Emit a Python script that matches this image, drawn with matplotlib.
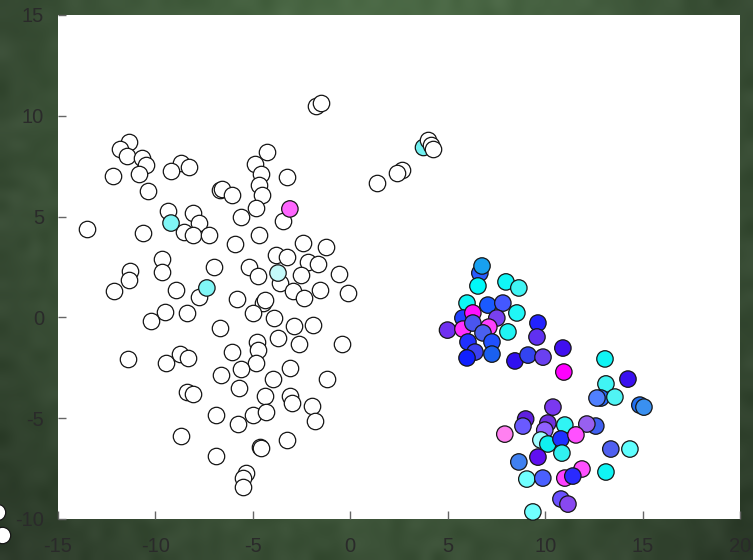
import numpy as np
import matplotlib
matplotlib.use("Agg")
import matplotlib.pyplot as plt

plt.rcParams["font.family"] = ["Liberation Sans", "DejaVu Sans"]
plt.rcParams["axes.unicode_minus"] = False

# ---- data -------------------------------------------------------------
# unlabelled samples (white) and labelled samples (coloured)
white_x = [
    -1.76, -1.50, 2.65, 2.39, 1.37,
    -11.36, -11.82, -11.46, -10.69, -10.48, -10.84, -12.18, -10.38,
    -8.69, -8.28, -9.20, -6.69,
    -13.51, -10.64, -9.36, -8.07, -7.77, -8.54, -8.07, -7.25,
    -4.28, -4.89, -4.58, -4.69, -4.53, -3.25, -6.59, -6.07, -4.84, -5.61, -3.46,
    -4.69, -5.92, -3.81, -3.25, -2.43, -1.25, -2.17, -1.66, -2.53, -0.58, -0.12,
    -3.61, -2.94, -2.38, -1.56, -5.20, -4.74, -6.99, -7.77, -5.82, -4.48, -4.38,
    -9.66, -9.66, -11.31, -11.36, -12.13, -8.95, -9.51, -10.23, -8.38, -4.99, -6.69,
    -11.41, -9.46, -8.74, -8.33, -6.64, -8.38, -8.07,
    -3.92, -2.89, -1.92, -3.71, -2.63, -0.43, -4.79, -4.74, -6.07, -4.84, -5.61,
    -3.10, -3.97, -1.20, -5.71,
    -4.38, -3.10, -2.99, -1.97, -1.81, -6.89, -5.76, -4.99, -4.33, -8.69, -6.89,
    -4.64, -4.58, -3.25, -5.35, -5.51, -5.51,
    -18.13, -17.87,
]
white_y = [
    10.49, 10.64, 7.31, 7.16, 6.67,
    8.70, 8.35, 8.00, 7.91, 7.56, 7.11, 7.01, 6.27,
    7.66, 7.46, 7.26, 6.32,
    4.38, 4.19, 5.28, 5.18, 4.68, 4.24, 4.09, 4.09,
    8.20, 7.61, 7.11, 6.57, 6.07, 6.96, 6.37, 6.07, 5.43, 4.98, 4.78,
    4.09, 3.64, 3.10, 3.00, 3.69, 3.49, 2.75, 2.65, 2.10, 2.15, 1.21,
    1.71, 1.31, 0.96, 1.36, 2.50, 2.05, 2.50, 1.01, 0.91, 0.71, 0.86,
    2.90, 2.25, 2.30, 1.86, 1.31, 1.36, 0.27, -0.18, 0.22, 0.22, -0.53,
    -2.06, -2.26, -1.82, -2.01, -2.86, -3.70, -3.80,
    -0.03, -0.43, -0.38, -1.02, -1.32, -1.32, -1.22, -1.62, -1.72, -2.26, -2.56,
    -2.51, -3.06, -3.06, -3.50,
    -3.90, -3.90, -4.25, -4.40, -5.14, -4.84, -5.29, -4.84, -4.69, -5.88, -6.88,
    -6.43, -6.48, -6.08, -7.72, -7.97, -8.41,
    -9.65, -10.79,
]

# small group near (4, 8.5): a cyan sample partly hidden by white ones
top_cyan_x = [3.73]
top_cyan_y = [8.45]
top_white_x = [3.98, 4.14, 4.24]
top_white_y = [8.80, 8.55, 8.35]

color_x = [
    -9.20, -7.36, -3.71, -3.10,
    6.65, 6.76, 6.55, 7.99, 8.65, 5.99, 7.06, 7.83, 8.55, 5.78, 6.29, 7.52,
    4.99, 7.11, 5.78, 6.29, 6.81, 8.09, 7.27, 6.04, 6.40, 5.99, 7.27,
    9.63, 9.58, 8.45, 9.12, 9.89, 10.91, 10.96,
    13.07, 14.25, 13.12, 12.86, 12.66, 13.58, 14.86, 15.07,
    10.40, 9.00, 8.86, 10.14, 9.98, 11.01, 12.60, 12.14,
    7.93, 9.78, 10.14, 10.81, 11.58, 10.86, 9.63, 13.37, 14.35,
    8.65, 9.06, 9.88, 11.01, 11.89, 11.42, 13.12,
    10.81, 11.17, 9.37,
]
color_y = [
    4.68, 1.46, 2.20, 5.38,
    2.20, 2.55, 1.56, 1.76, 1.46, 0.71, 0.61, 0.71, 0.22, -0.03, 0.22, -0.03,
    -0.63, -0.48, -0.58, -0.28, -0.77, -0.72, -1.22, -1.22, -1.72, -2.01, -1.82,
    -0.28, -0.97, -2.16, -1.87, -1.97, -1.52, -2.71,
    -2.06, -3.06, -3.30, -4.00, -4.00, -3.95, -4.35, -4.45,
    -4.45, -5.04, -5.39, -5.24, -5.59, -5.34, -5.39, -5.29,
    -5.79, -6.08, -6.28, -6.03, -5.83, -6.73, -6.93, -6.53, -6.53,
    -7.17, -8.02, -7.97, -7.97, -7.52, -7.87, -7.67,
    -9.01, -9.26, -9.65,
]
color_c = [
    "#80f6f6", "#80f6f6", "#c4fafa", "#ff66ff",
    "#2a5cff", "#18a0f0", "#00f8f8", "#10f6f6", "#40f4f4", "#10f6f6", "#1a5aff",
    "#4458ff", "#20f6f6", "#2040ff", "#ff10ff", "#7840f0",
    "#7030f0", "#ff40ff", "#ff30ff", "#4a55f0", "#4a60f0", "#20f4f4", "#2050ff",
    "#2030ff", "#3c40f0", "#1020ff", "#1a60f0",
    "#2222ff", "#6030f0", "#3010f0", "#3344f0", "#6a40f0", "#4010f0", "#ff00ff",
    "#10f4f4", "#3a10f0", "#40f4f4", "#2a6aff", "#5080ff", "#50f4f4", "#2070f0",
    "#3a90f0",
    "#7a38f0", "#6020e0", "#6a5aff", "#7030e0", "#9060ff", "#30f4f4", "#4060f0",
    "#9860f0",
    "#ff80f0", "#a0ffff", "#10f0f0", "#2030ff", "#ff50ff", "#30f0f0", "#6010f0",
    "#5060f0", "#60ffff",
    "#4080f0", "#70ffff", "#4a60ff", "#ff40ff", "#ff50ff", "#2a2aff", "#10f4f4",
    "#6a50ff", "#8848f0", "#70ffff",
]

xticks = [-15, -10, -5, 0, 5, 10, 15, 20]
yticks = [-10, -5, 0, 5, 10, 15]

# ---- figure -----------------------------------------------------------
W, H = 753, 560
fig = plt.figure(figsize=(W / 100, H / 100), dpi=100)

# chalkboard-green backdrop with a soft vignette
bg = fig.add_axes([0, 0, 1, 1], zorder=0)
bg.set_axis_off()
gh, gw = 56, 75
yy, xx = np.mgrid[0:gh, 0:gw]
r = np.sqrt(((xx - gw * 0.5) / (gw * 0.55)) ** 2 + ((yy - gh * 0.25) / (gh * 0.9)) ** 2)
r = np.clip(r, 0, 1.3)
center = np.array([80, 112, 74]) / 255.0
edge = np.array([38, 50, 36]) / 255.0
t = (r / 1.3) ** 1.4
img = center[None, None, :] * (1 - t[..., None]) + edge[None, None, :] * t[..., None]
rng = np.random.default_rng(7)
grain = rng.normal(0, 0.018, (gh, gw))
img = np.clip(img + grain[..., None], 0, 1)
bg.imshow(img, aspect="auto", interpolation="bicubic", extent=[0, 1, 0, 1])
bg.set_xlim(0, 1)
bg.set_ylim(0, 1)

ax = fig.add_axes([58 / W, 41 / H, 682 / W, 504 / H], zorder=1)
ax.set_facecolor("white")
for sp in ax.spines.values():
    sp.set_visible(False)

mk = dict(s=140, linewidths=0.9, edgecolors="#151515", clip_on=False)
ax.scatter(white_x, white_y, c="white", **mk)
ax.scatter(top_cyan_x, top_cyan_y, c="#70f0f0", **mk)
ax.scatter(top_white_x, top_white_y, c="white", **mk)
ax.scatter(color_x, color_y, c=color_c, **mk)

ax.set_xlim(-15, 20)
ax.set_ylim(-10, 15)
ax.set_xticks(xticks)
ax.set_yticks(yticks)
ax.set_xticklabels([str(v) for v in xticks])
ax.set_yticklabels([str(v) for v in yticks])
ax.tick_params(direction="in", length=6, width=1, color="#666666",
               labelsize=14.5, labelcolor="#2a2a2a")
ax.tick_params(axis="x", pad=13)
ax.tick_params(axis="y", pad=10)

fig.savefig("out.png", dpi=100)
